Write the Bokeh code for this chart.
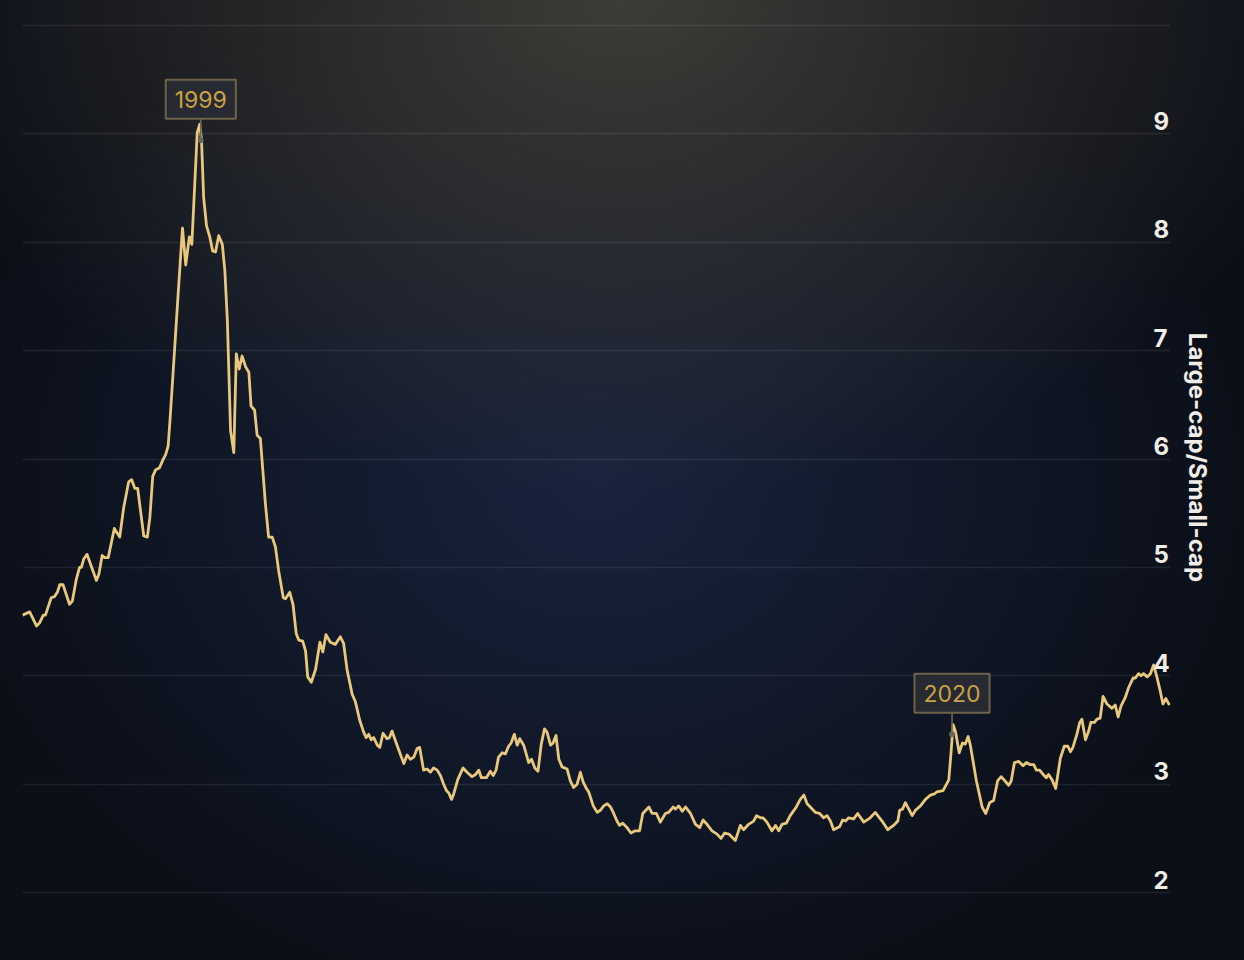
from bokeh.plotting import figure
from bokeh.models import Range1d, LinearAxis, FixedTicker, Grid, Label
from bokeh.embed import file_html
from bokeh.resources import INLINE

# large-cap / small-cap ratio (decimal years)
years = [
    1994.25, 1994.45, 1994.64, 1994.73, 1994.83, 1994.89, 1995.05, 1995.14, 1995.22, 1995.29,
    1995.38, 1995.56, 1995.64, 1995.75, 1995.84, 1995.89, 1995.96, 1996.05, 1996.31, 1996.38,
    1996.47, 1996.54, 1996.64, 1996.81, 1996.96, 1997.07, 1997.21, 1997.29, 1997.38, 1997.46,
    1997.63, 1997.73, 1997.80, 1997.88, 1997.96, 1998.07, 1998.16, 1998.24, 1998.31, 1998.36,
    1998.47, 1998.59, 1998.71, 1998.80, 1998.90, 1998.97, 1999.02, 1999.12, 1999.19, 1999.24,
    1999.30, 1999.38, 1999.47, 1999.55, 1999.63, 1999.72, 1999.82, 1999.89, 1999.96, 2000.05,
    2000.14, 2000.21, 2000.29, 2000.37, 2000.47, 2000.56, 2000.62, 2000.72, 2000.79, 2000.88,
    2001.02, 2001.11, 2001.21, 2001.30, 2001.39, 2001.52, 2001.58, 2001.70, 2001.79, 2001.88,
    2001.95, 2002.06, 2002.14, 2002.20, 2002.30, 2002.42, 2002.54, 2002.62, 2002.71, 2002.83,
    2002.97, 2003.11, 2003.20, 2003.30, 2003.44, 2003.53, 2003.65, 2003.76, 2003.83, 2003.90,
    2003.97, 2004.04, 2004.14, 2004.21, 2004.30, 2004.41, 2004.48, 2004.55, 2004.69, 2004.88,
    2004.97, 2005.06, 2005.16, 2005.25, 2005.32, 2005.43, 2005.53, 2005.62, 2005.71, 2005.81,
    2005.90, 2005.99, 2006.07, 2006.13, 2006.21, 2006.27, 2006.38, 2006.53, 2006.64, 2006.78,
    2006.88, 2006.97, 2007.04, 2007.18, 2007.29, 2007.37, 2007.45, 2007.52, 2007.62, 2007.71,
    2007.80, 2007.87, 2007.96, 2008.04, 2008.11, 2008.22, 2008.36, 2008.44, 2008.53, 2008.62,
    2008.71, 2008.80, 2008.87, 2008.97, 2009.04, 2009.12, 2009.20, 2009.29, 2009.43, 2009.52,
    2009.61, 2009.71, 2009.80, 2009.88, 2009.97, 2010.03, 2010.16, 2010.27, 2010.36, 2010.45,
    2010.55, 2010.64, 2010.73, 2010.82, 2010.89, 2010.98, 2011.10, 2011.21, 2011.33, 2011.45,
    2011.54, 2011.71, 2011.80, 2011.92, 2012.03, 2012.17, 2012.26, 2012.39, 2012.45, 2012.54,
    2012.64, 2012.73, 2012.87, 2013.01, 2013.13, 2013.22, 2013.33, 2013.47, 2013.61, 2013.72,
    2013.82, 2013.94, 2014.03, 2014.12, 2014.26, 2014.35, 2014.49, 2014.63, 2014.71, 2014.82,
    2014.89, 2015.00, 2015.14, 2015.24, 2015.33, 2015.42, 2015.54, 2015.65, 2015.82, 2015.93,
    2016.03, 2016.12, 2016.21, 2016.35, 2016.47, 2016.58, 2016.68, 2016.77, 2016.86, 2017.03,
    2017.11, 2017.19, 2017.28, 2017.42, 2017.53, 2017.70, 2017.88, 2018.02, 2018.21, 2018.37,
    2018.53, 2018.65, 2018.70, 2018.78, 2018.86, 2019.05, 2019.14, 2019.28, 2019.42, 2019.56,
    2019.67, 2019.74, 2019.91, 2020.07, 2020.13, 2020.19, 2020.26, 2020.36, 2020.45, 2020.53,
    2020.61, 2020.67, 2020.84, 2021.00, 2021.10, 2021.21, 2021.32, 2021.43, 2021.53, 2021.74,
    2021.81, 2021.90, 2022.02, 2022.14, 2022.23, 2022.34, 2022.44, 2022.51, 2022.60, 2022.70,
    2022.79, 2022.85, 2022.95, 2023.05, 2023.18, 2023.29, 2023.39, 2023.46, 2023.53, 2023.64,
    2023.72, 2023.78, 2023.88, 2023.97, 2024.03, 2024.13, 2024.20, 2024.29, 2024.37, 2024.48,
    2024.62, 2024.71, 2024.79, 2024.87, 2024.99, 2025.08, 2025.21, 2025.27, 2025.36, 2025.43,
    2025.50, 2025.60, 2025.69, 2025.78, 2025.87, 2025.95, 2026.04, 2026.12, 2026.22,
]
ratio = [
    4.56, 4.59, 4.46, 4.49, 4.56, 4.56, 4.72, 4.73, 4.77, 4.84,
    4.84, 4.66, 4.69, 4.89, 5.00, 5.00, 5.08, 5.12, 4.88, 4.94,
    5.11, 5.09, 5.09, 5.36, 5.28, 5.55, 5.79, 5.81, 5.73, 5.73,
    5.29, 5.28, 5.46, 5.84, 5.90, 5.92, 5.99, 6.04, 6.12, 6.35,
    6.91, 7.53, 8.13, 7.79, 8.05, 7.98, 8.32, 9.01, 9.09, 8.94,
    8.41, 8.15, 8.05, 7.92, 7.91, 8.06, 7.98, 7.74, 7.28, 6.26,
    6.06, 6.97, 6.83, 6.95, 6.85, 6.80, 6.49, 6.45, 6.22, 6.19,
    5.59, 5.28, 5.28, 5.19, 4.97, 4.72, 4.71, 4.77, 4.66, 4.39,
    4.33, 4.32, 4.23, 3.99, 3.94, 4.06, 4.31, 4.22, 4.38, 4.31,
    4.29, 4.36, 4.30, 4.05, 3.83, 3.76, 3.59, 3.48, 3.43, 3.46,
    3.41, 3.43, 3.36, 3.34, 3.47, 3.42, 3.43, 3.49, 3.36, 3.19,
    3.27, 3.23, 3.25, 3.33, 3.34, 3.13, 3.14, 3.11, 3.15, 3.13,
    3.08, 3.00, 2.94, 2.92, 2.86, 2.91, 3.04, 3.15, 3.11, 3.07,
    3.09, 3.13, 3.06, 3.06, 3.12, 3.08, 3.13, 3.25, 3.29, 3.28,
    3.35, 3.38, 3.46, 3.36, 3.42, 3.36, 3.20, 3.23, 3.15, 3.12,
    3.37, 3.51, 3.48, 3.36, 3.38, 3.45, 3.23, 3.16, 3.14, 3.03,
    2.97, 3.00, 3.11, 3.02, 2.96, 2.93, 2.80, 2.74, 2.76, 2.80,
    2.82, 2.79, 2.73, 2.66, 2.62, 2.64, 2.60, 2.55, 2.57, 2.57,
    2.73, 2.79, 2.73, 2.73, 2.65, 2.73, 2.74, 2.79, 2.77, 2.80,
    2.75, 2.79, 2.73, 2.63, 2.60, 2.67, 2.63, 2.57, 2.54, 2.50,
    2.55, 2.54, 2.51, 2.48, 2.62, 2.58, 2.63, 2.66, 2.71, 2.69,
    2.69, 2.65, 2.57, 2.62, 2.57, 2.63, 2.64, 2.71, 2.79, 2.86,
    2.90, 2.82, 2.79, 2.74, 2.73, 2.69, 2.71, 2.66, 2.58, 2.61,
    2.67, 2.66, 2.69, 2.68, 2.73, 2.65, 2.69, 2.74, 2.66, 2.58,
    2.62, 2.66, 2.76, 2.77, 2.83, 2.71, 2.76, 2.80, 2.86, 2.90,
    2.91, 2.93, 2.94, 3.04, 3.28, 3.55, 3.48, 3.29, 3.38, 3.37,
    3.44, 3.36, 3.03, 2.79, 2.73, 2.83, 2.85, 3.03, 3.07, 2.99,
    3.03, 3.20, 3.21, 3.17, 3.20, 3.18, 3.18, 3.13, 3.13, 3.09,
    3.06, 3.09, 3.04, 2.96, 3.24, 3.35, 3.35, 3.30, 3.34, 3.46,
    3.57, 3.60, 3.41, 3.49, 3.57, 3.57, 3.60, 3.61, 3.81, 3.74,
    3.70, 3.73, 3.62, 3.72, 3.80, 3.89, 3.98, 3.98, 4.02, 4.00,
    4.02, 3.99, 4.02, 4.10, 3.99, 3.88, 3.74, 3.79, 3.73,
]

note_years = [1999.22, 2020.16]
note_values = [8.94, 3.46]
note_texts = ["1999", "2020"]

grid_ticks = [2, 3, 4, 5, 6, 7, 8, 9, 10]
label_ticks = [2, 3, 4, 5, 6, 7, 8, 9]
axis_title = "Large-cap/Small-cap"

STEM = 0.2
LABEL_SHIFT = 0.12

backdrop = (
    "radial-gradient(ellipse 58% 52% at 50% 0%, rgba(62,60,54,1) 0%, rgba(62,60,54,0) 100%), "
    "radial-gradient(ellipse 52% 55% at 48% 50%, rgba(24,35,61,1) 0%, rgba(24,35,61,0) 100%), "
    "#0b0f18"
)

p = figure(width=1244, height=960, output_backend="svg", toolbar_location=None,
           x_range=Range1d(1994.25, 2026.25), y_range=Range1d(1.798, 10.23),
           x_axis_location=None, y_axis_location=None,
           min_border_left=22, min_border_right=74,
           min_border_top=0, min_border_bottom=46,
           background_fill_alpha=0, border_fill_alpha=0, outline_line_color=None,
           styles={"background": backdrop})

p.grid.visible = False
p.add_layout(Grid(dimension=1, ticker=FixedTicker(ticks=grid_ticks),
                  grid_line_color="#ffffff", grid_line_alpha=0.08, grid_line_width=1.6))

p.extra_y_ranges = {"labels": Range1d(1.798 - LABEL_SHIFT, 10.23 - LABEL_SHIFT)}
ax = LinearAxis(y_range_name="labels", ticker=FixedTicker(ticks=label_ticks),
                axis_label=axis_title)
ax.axis_line_color = None
ax.major_tick_line_color = None
ax.minor_tick_line_color = None
ax.major_tick_out = 0
ax.major_tick_in = 0
ax.major_label_standoff = -17
ax.major_label_text_font = "Inter"
ax.major_label_text_font_size = "24px"
ax.major_label_text_font_style = "bold"
ax.major_label_text_color = "#f0ede6"
ax.axis_label_text_font = "Inter"
ax.axis_label_text_font_size = "24px"
ax.axis_label_text_font_style = "bold"
ax.axis_label_text_color = "#f0ede6"
ax.axis_label_standoff = 10
p.add_layout(ax, "right")

p.line(years, ratio, line_color="#e8c87c", line_width=2.8, line_join="round")

p.segment(x0=note_years, y0=note_values, x1=note_years,
          y1=[v + STEM for v in note_values], line_color="#6c6655", line_width=1.6)
p.scatter(note_years, note_values, size=5, color="#6c6655")

for yr, v, txt in zip(note_years, note_values, note_texts):
    p.add_layout(Label(x=yr, y=v + STEM, text=txt, text_align="center",
                       text_baseline="bottom", y_offset=0,
                       text_font="Inter", text_font_size="23px",
                       text_color="#cba241",
                       background_fill_color="#272a32", background_fill_alpha=1,
                       border_line_color="#6e6249", border_line_width=2,
                       padding=dict(left=9, right=9, top=11, bottom=11)))

open("out.html", "w").write(file_html(p, INLINE))
